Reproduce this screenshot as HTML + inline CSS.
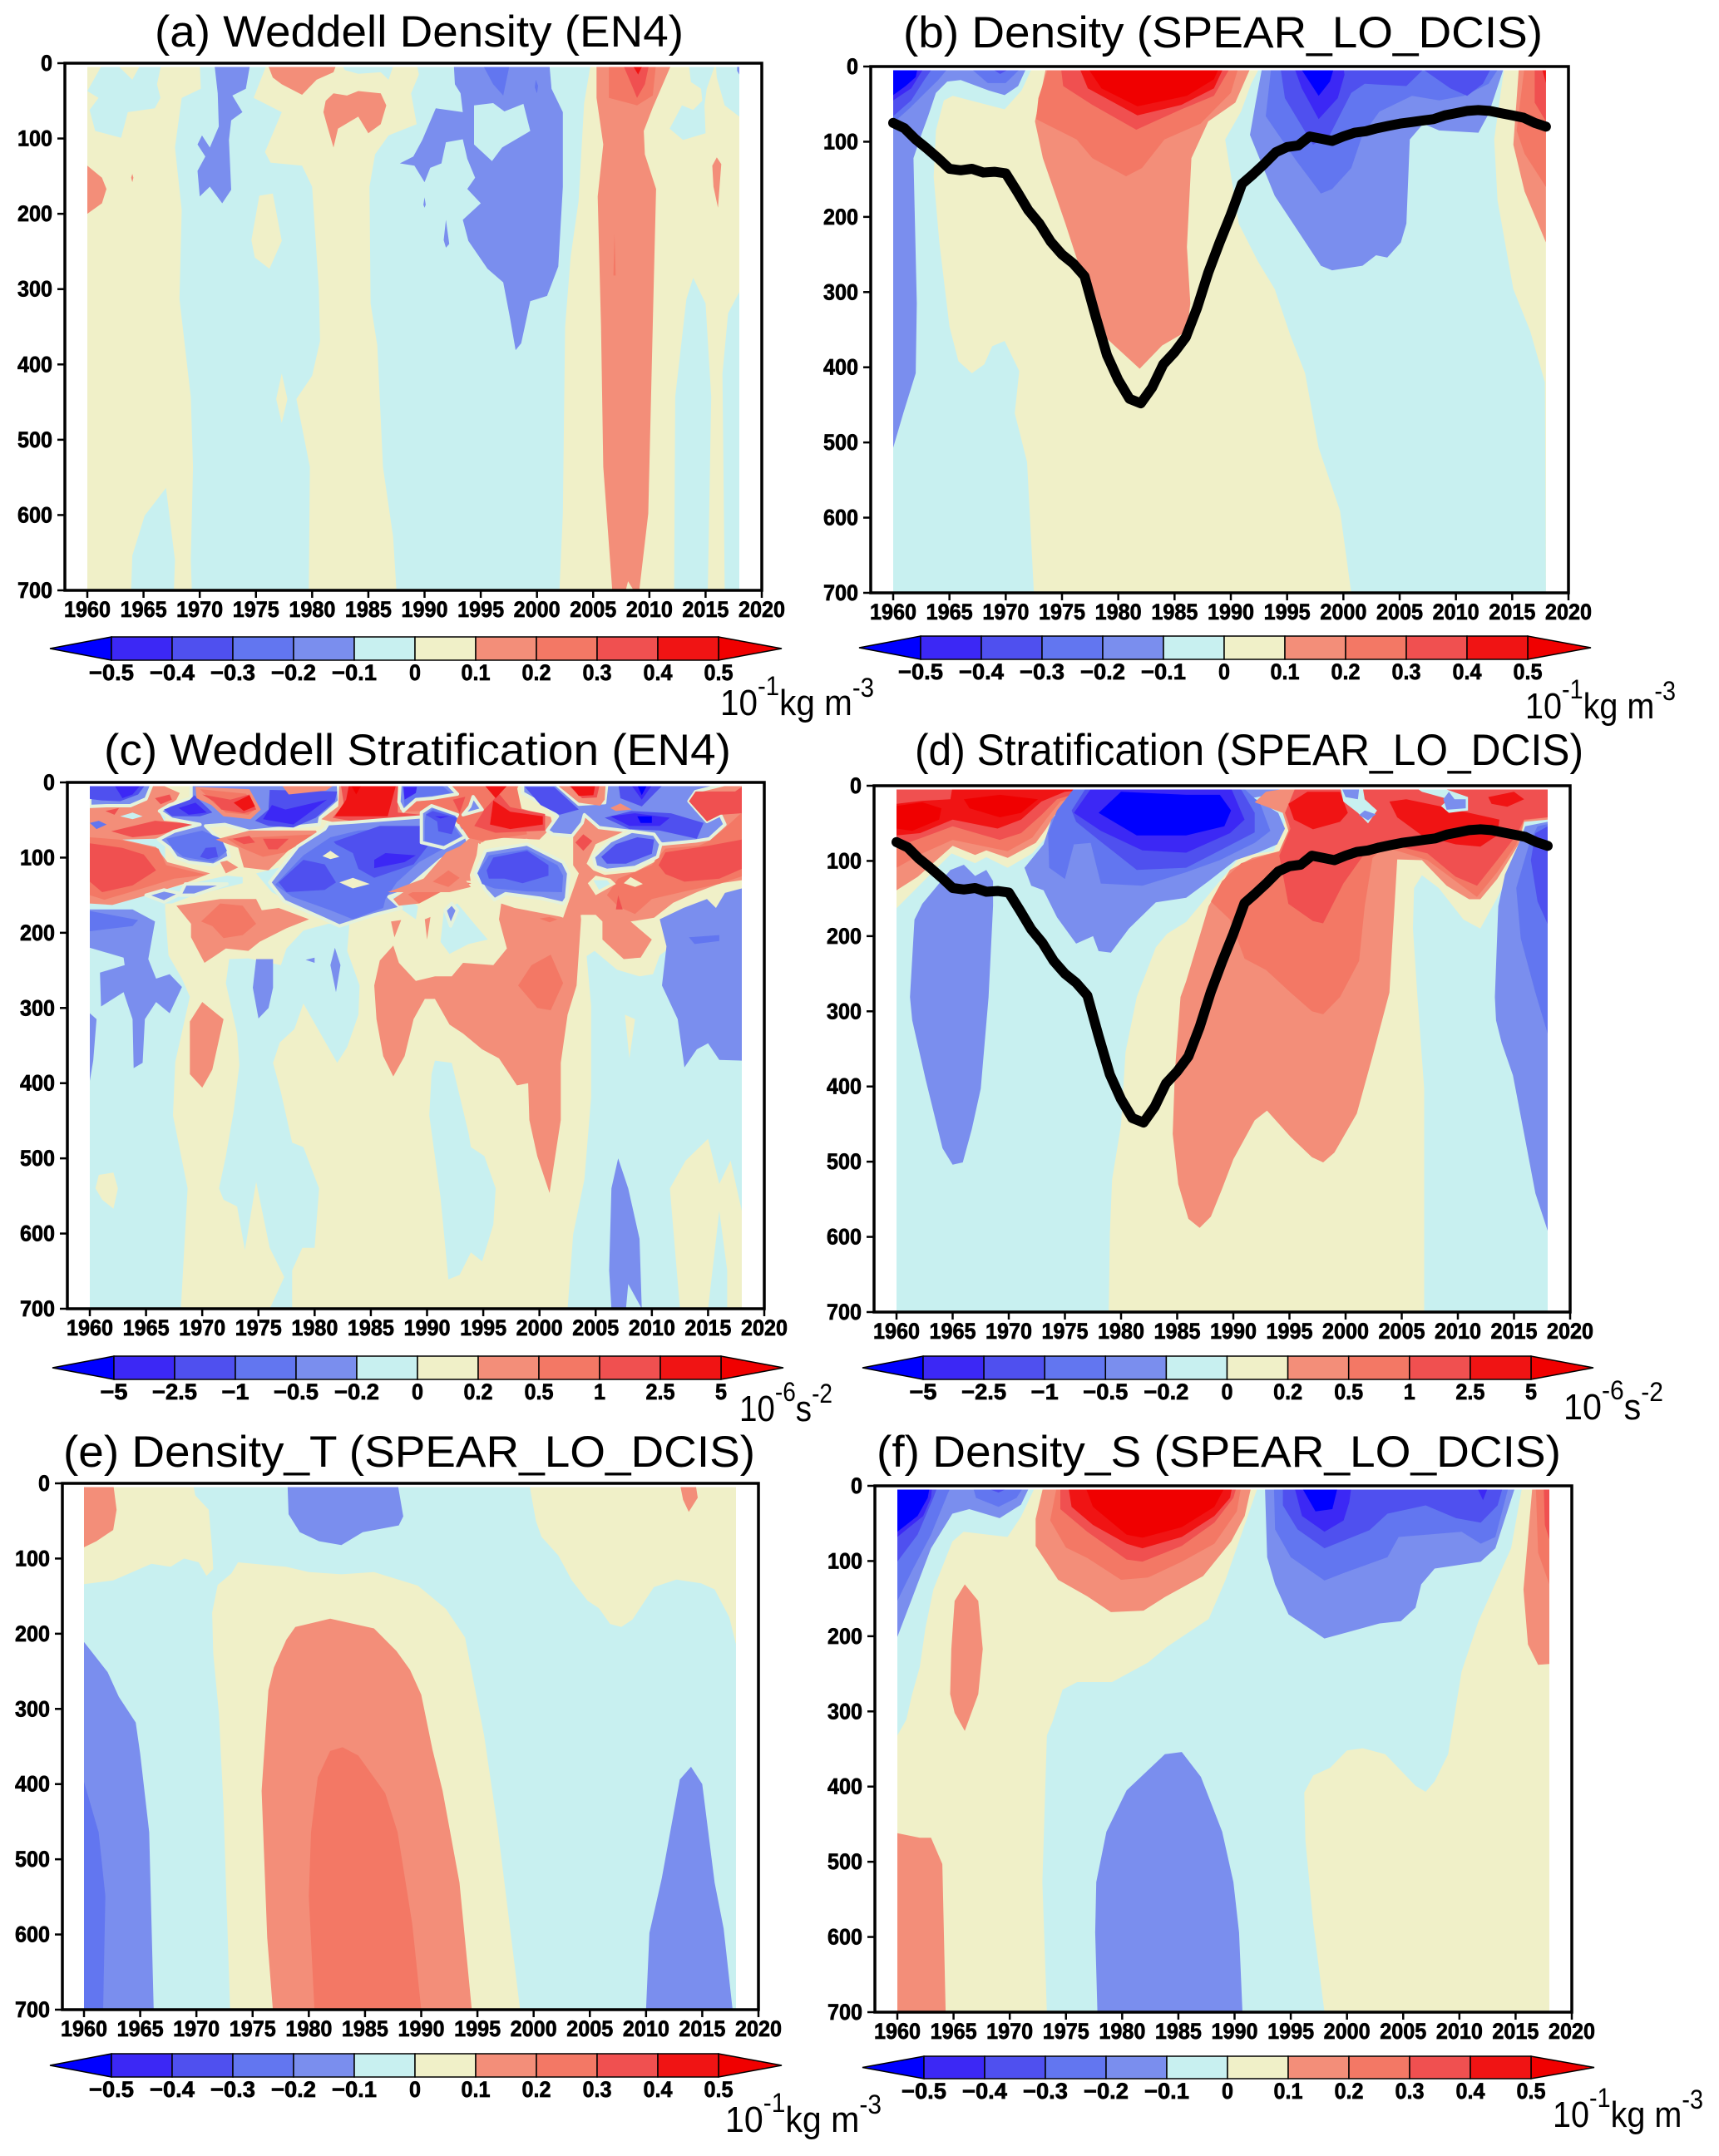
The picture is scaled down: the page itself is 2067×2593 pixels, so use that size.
<!DOCTYPE html>
<html lang="en">
<head>
<meta charset="utf-8">
<title>Weddell density and stratification panels</title>
<style>
html,body{margin:0;padding:0;background:#fff;}
svg{display:block;}
text{font-family:"Liberation Sans",sans-serif;fill:#000;}
</style>
</head>
<body>
<svg id="figure" xmlns="http://www.w3.org/2000/svg" width="2067" height="2593" viewBox="0 0 2067 2593"></svg>
<script>
// Axis tick labels and colour-bar labels
const yearTicks = [1960,1965,1970,1975,1980,1985,1990,1995,2000,2005,2010,2015,2020];
const depthTicks = [0,100,200,300,400,500,600,700];
const densityLevels = ['\u22120.5','\u22120.4','\u22120.3','\u22120.2','\u22120.1','0','0.1','0.2','0.3','0.4','0.5'];
const stratLevels = ['\u22125','\u22122.5','\u22121','\u22120.5','\u22120.2','0','0.2','0.5','1','2.5','5'];
const levelColors = ['#0000ff','#3c28f5','#4f50ef','#6276f0','#7a8eee','#c8f0f0','#f0f0c8','#f38e79','#f37865','#f05050','#f01414','#f00000'];

// Mixed-layer depth (m) per year, panels b and d
const mldYears = [1960,1961,1962,1963,1964,1965,1966,1967,1968,1969,1970,1971,1972,1973,1974,1975,1976,1977,1978,1979,1980,1981,1982,1983,1984,1985,1986,1987,1988,1989,1990,1991,1992,1993,1994,1995,1996,1997,1998,1999,2000,2001,2002,2003,2004,2005,2006,2007,2008,2009,2010,2011,2012,2013,2014,2015,2016,2017,2018];
const mldDepth = [75,82,97,109,122,136,138,136,141,140,142,166,191,209,233,250,262,279,333,384,417,442,448,427,396,380,360,321,274,234,197,156,143,129,114,107,105,93,96,99,93,88,86,82,79,76,74,72,70,65,62,59,58,59,62,65,68,75,80];

// Contour regions: [colour level, [year, depth, year, depth, ...]], painted in order
const regionsA = [
[5,[1960,37,1961,46,1960.2,62,1960.7,90,1963,99,1963.6,65,1966,60,1966.5,46,1966.2,28,1966.6,0,1964.8,0,1964,22,1962.5,0,1961.4,0]],
[5,[1970,0,1970.1,34,1968.4,46,1967.8,112,1968.4,195,1968.2,313,1969.2,443,1969.4,536,1969.2,660,1969.3,700,1979.7,700,1979.8,536,1978.6,446,1980,415,1980.7,369,1980.6,300,1980,164,1979.1,136,1976.3,132,1975.8,118,1977.3,65,1974.8,46,1976,0]],
[6,[1974.6,235,1975.3,176,1976.5,173,1977.3,236,1976.2,273,1974.9,258]],
[6,[1977.3,412,1977.8,446,1977.3,478,1976.8,446]],
[5,[1963.9,700,1964,654,1965.1,601,1967,564,1967.8,660,1967.7,700]],
[5,[1982.6,0,1987.3,0,1986.8,22,1986.1,12,1984.1,14,1982.9,9]],
[5,[1987.5,700,1987.2,629,1986.3,536,1985.8,375,1985.2,319,1985.1,164,1985.6,121,1986.8,96,1989.3,81,1988.8,40,1989.5,15,1989.3,0,2004.8,0,2004.2,53,2003.7,183,2003,257,2002.5,350,2002.3,598,2002,700]],
[5,[2013.5,0,2015.9,0,2015.1,34,2014.9,56,2015,93,2013,102,2011.8,87,2012.9,56,2013.9,62,2014.7,50,2014.6,34,2013.7,25]],
[5,[2015.9,0,2018,0,2018,71,2016.7,56,2016,19]],
[5,[2015.2,700,2015.5,443,2015,319,2013.9,285,2013.3,313,2012.3,443,2012.2,700]],
[5,[2016.7,700,2016.5,412,2017,332,2018,304,2018,700]],
[4,[2017.8,0,2018,0,2018,15,2017.8,10]],
[4,[1971.3,0,1971.6,40,1971.7,84,1970.9,112,1970.2,96,1969.8,108,1970.5,124,1969.8,143,1970,177,1970.9,164,1972,186,1972.8,168,1972.6,102,1972.8,76,1973.8,65,1972.9,43,1974.1,34,1974.5,0]],
[4,[1992.6,0,1992.7,28,1993.2,40,1993.4,65,1991,60,1989.8,102,1989,124,1987.8,133,1989.1,136,1990,158,1990.5,139,1991.5,133,1991.9,105,1993.4,101,1993.8,127,1994.5,152,1993.8,167,1995,186,1993.4,208,1993.9,236,1995.6,273,1997,291,1997.6,338,1998.1,381,1998.6,372,1999.4,316,2000.9,309,2001.9,270,2002.3,164,2002.3,65,2001.3,34,2001.1,0]],
[5,[1994.4,56,1996.1,53,1997.1,64,1998.8,54,1999.4,90,1996.9,112,1996,130,1994.4,108]],
[3,[1995.1,0,1997.6,0,1997,43,1996.1,28]],
[3,[1999.9,22,2000.1,30,2000,40,1999.8,32]],
[4,[1991.9,208,1992.2,240,1991.9,245,1991.7,235]],
[4,[1990,178,1990.1,188,1990,192,1989.9,188]],
[7,[1976,0,1982.2,0,1981.9,12,1980.4,22,1979.1,42,1977.3,28,1976.5,19]],
[7,[1981.2,50,1981.9,40,1983.1,43,1984.1,37,1986.1,40,1986.6,56,1986.1,81,1985,93,1984.1,71,1982.3,87,1981.9,112,1981.3,81,1981,65]],
[7,[2005.3,0,2005.3,46,2005.9,108,2005.4,177,2005.7,350,2005.9,536,2006.7,700,2007.9,700,2008.1,688,2008.6,700,2009.1,700,2009.9,598,2010.4,288,2010.6,167,2009.6,121,2009.5,90,2010.3,59,2012,0]],
[8,[2006.4,0,2006.4,46,2008.9,56,2010.3,43,2010.6,0]],
[9,[2007.6,0,2008.4,28,2008.9,46,2009.6,28,2010,0]],
[10,[2008.4,0,2009,15,2009.5,0]],
[8,[2006.9,226,2007,282,2006.8,282]],
[7,[2015.6,136,2016,125,2016.4,134,2016.1,192,2015.7,164]],
[7,[1960,136,1961.3,152,1961.7,167,1961.3,186,1960,200]],
[7,[1964,147,1964.1,152,1964,158,1963.9,152]]
];

const regionsB = [
[5,[1960,0,1960,700,1972.5,700,1971.9,526,1970.8,461,1971.2,405,1969.9,365,1968.8,372,1968.1,396,1967,408,1965.8,392,1965,346,1964.1,234,1963.6,147,1963.8,85,1964.5,45,1965.3,39,1969.9,57,1971.4,32,1972.4,0]],
[4,[1960,507,1960.9,461,1962,408,1962.1,315,1961.8,122,1962.5,91,1963.1,66,1963.8,35,1964.8,20,1966,18,1968.5,32,1969.9,38,1971.1,26,1971.9,0,1960,0]],
[3,[1960,75,1961.5,55,1962.5,40,1964,18,1965,0,1960,0]],
[3,[1966.7,0,1968.4,22,1970,22,1971.5,0]],
[2,[1960,66,1961.6,45,1962.8,17,1963.6,0,1960,0]],
[2,[1968.5,0,1969.5,10,1970.7,0]],
[1,[1960,45,1961.6,29,1962.8,0,1960,0]],
[0,[1960,38,1961.1,26,1962,14,1962.2,0,1960,0]],
[5,[2000.7,700,1999.7,591,1997.8,507,1996.6,408,1995.3,358,1993.9,296,1992.4,259,1990.7,209,1989.5,97,1990.9,60,1991.8,23,1992.6,0,2014.3,0,2013.4,97,2013.7,178,2015.1,296,2016.6,352,2017.9,420,2018,700]],
[4,[1992.8,0,1992.2,48,1991.7,91,1993.9,172,1995.8,215,1998,265,1999,271,2001.7,265,2002.9,251,2003.9,254,2005.1,234,2005.6,209,2005.9,97,2007.1,76,2008.5,85,2012,88,2012.9,63,2014.3,0]],
[3,[1993.6,0,1993.1,66,1995.8,125,1998,169,1999,163,2000.7,135,2001.7,91,2003.2,60,2006.1,39,2008.5,45,2010.7,39,2012.9,23,2013.9,0]],
[2,[1994.4,0,1994.8,42,1997.3,104,1998.8,91,2000.7,35,2001.9,23,2005.6,26,2007.1,4,2009.5,29,2011,39,2012.4,23,2013.2,0]],
[1,[1995.6,0,1996.3,29,1997.8,70,1999.5,42,2000.1,11,2000,0]],
[0,[1996.1,0,1997.8,39,1998.8,20,1999.2,0]],
[7,[1973.6,0,1972.6,73,1973.3,122,1975.3,209,1976.8,278,1978.7,358,1981.9,402,1983.9,371,1986.1,352,1986.4,315,1986.1,240,1986.5,122,1988,73,1990.4,48,1991.8,0]],
[8,[1973.8,0,1972.9,42,1972.7,70,1976.3,97,1977.7,122,1980.7,146,1982.1,135,1984.1,97,1987.3,76,1990,35,1990.7,0]],
[9,[1974.9,0,1975.1,26,1977.7,51,1981.6,84,1985.6,57,1988.5,39,1990,0]],
[10,[1976.5,0,1977.3,29,1981.7,65,1985.6,51,1988.5,29,1989.4,0]],
[11,[1977.2,0,1978.5,29,1981.7,53,1986.1,39,1988.5,17,1989,0]],
[7,[2015.6,0,2015.1,104,2016.1,166,2018,234,2018,0]],
[8,[2016.1,0,2015.4,85,2016.1,116,2018,160,2018,0]],
[9,[2017,0,2017,48,2018,73,2018,0]],
[10,[2017.6,0,2018,22,2018,0]]
];

const regionsC = [
[5,[1960,0,1960,700,1968.1,700,1968.7,540,1967.4,443,1967.6,372,1968.9,285,1968.2,261,1967,230,1966.7,170,1966.7,0]],
[5,[1964.8,148,1972.2,124,1973.6,126,1973.6,134,1969.3,150,1967.3,161,1964.8,161,1962.6,163]],
[6,[1960.5,540,1960.8,522,1962.1,519,1962.5,540,1962.1,567,1961.1,555]],
[5,[1972.4,235,1974.1,234,1977,243,1977.5,221,1979,197,1981.2,188,1983.1,188,1982.9,224,1984,270,1983.9,309,1982.9,352,1982,373,1981.2,352,1979,294,1978.2,328,1976.9,346,1976.3,373,1977,412,1978,479,1979,485,1980.4,540,1980,619,1978.9,619,1978,649,1978,700,1976,700,1977.3,658,1976,619,1974.8,531,1973.8,622,1973.1,564,1971.9,555,1971.5,540,1972.1,497,1972.8,437,1973.3,376,1973.1,334,1972.1,267]],
[5,[1990.7,370,1992.2,373,1993.7,467,1993.9,485,1995.1,497,1996.1,540,1995.9,588,1994.9,637,1993.9,625,1992.9,655,1991.9,661,1991.2,552,1990.2,443,1990.4,388]],
[5,[1991.5,170,1992.7,161,1994.2,188,1995.4,209,1993.7,215,1992,228,1991.2,212]],
[5,[2002.5,700,2003,601,2004,528,2004.6,419,2004.6,297,2004.2,231,2004.9,224,2006.9,249,2008.9,258,2010.1,255,2010.7,230,2018,146,2018,570,2017,503,2016,534,2015,474,2013,503,2011.6,540,2012.5,700]],
[5,[2015,700,2016,570,2016.7,649,2016.7,700]],
[6,[2007.6,309,2008.5,315,2008,367]],
[4,[1960,169,1963.8,169,1965.8,185,1965.2,235,1965.9,261,1967.1,255,1968.2,272,1967.1,307,1965.9,292,1964.9,315,1964.7,373,1963.9,380,1963.8,315,1963,279,1961,298,1960.9,253,1963.1,243,1963,233,1960,220]],
[3,[1960,171,1964.3,183,1963.8,191,1960,198]],
[4,[1960,307,1960.6,315,1960.3,370,1960,397]],
[4,[1974.8,235,1976.3,235,1976.3,273,1975.9,300,1975,314,1974.5,273]],
[4,[1981.8,220,1982.3,243,1981.9,279,1981.4,243]],
[4,[1979.2,236,1980,233,1980,240]],
[4,[1992.2,161,1992.7,170,1992.1,191,1991.6,170]],
[4,[2007,500,2007.9,540,2008.9,607,2009.1,700,2007.9,667,2007.7,700,2006.4,700,2006.2,649,2006.4,540]],
[7,[1967.7,164,1971.6,155,1974.8,155,1975.3,170,1976.8,167,1979.5,182,1977.5,194,1975.1,212,1974.1,224,1972.1,221,1970.2,240,1969,206,1969,188]],
[8,[1969.9,185,1971.6,161,1973.6,164,1974.8,188,1973.6,203,1971.9,207,1970.9,191]],
[7,[1968.9,318,1970,292,1971.9,315,1970.9,382,1970,406,1968.9,388]],
[7,[1985.3,270,1985.8,237,1987,217,1987.5,240,1989,264,1990.7,258,1992.2,258,1993.2,240,1995.9,243,1997.1,221,1996.4,182,1996.6,161,1997.8,167,2002,179,2003.5,155,2003.7,182,2003.3,270,2002.5,309,2001.9,373,2001.9,449,2000.9,546,1999.8,497,1999.1,449,1999,400,1998,403,1996.4,367,1994.9,355,1993.2,334,1992,322,1990.7,288,1989.8,288,1988.8,315,1988,364,1987,391,1986.1,364,1985.5,315]],
[8,[1998.1,270,1999.3,243,2001,229,2002.1,267,2001,303,1999.8,300]],
[8,[2000,181,2000.9,179,2001.6,182,2000.9,186]],
[7,[1986.8,185,1987.7,183,1987.1,206]],
[7,[1989.8,182,1990.3,179,1990,209]],
[4,[2010.7,182,2012.8,167,2014.9,155,2015.7,167,2016.5,147,2018,141,2018,370,2016,369,2015,347,2014,355,2012.9,379,2012.3,315,2010.9,270,2011.3,218]],
[3,[2013.3,206,2016,203,2016,211,2013.8,215]],
[7,[2002.1,180,2003.8,176,2005,176,2005.6,185,2005.6,209,2007.5,235,2009,233,2010,209,2008.1,185,2010.2,180,2011.9,160,2014,146,2016.1,134,2018,130,2018,0,2003,0,2003,124]],
[8,[2006,150,2007,128,2010,110,2011.2,88,2014.2,84,2015.1,78,2016.4,62,2018,40,2018,125,2016,135,2012.9,145,2010,155,2008.5,175,2007,165]],
[9,[2010.6,110,2011.2,93,2015.1,84,2018,76,2018,115,2016,128,2012.9,132,2011.2,122]],
[9,[2006.8,169,2007,150,2007.4,169]],
[9,[2003.2,80,2003.9,69,2004.7,78,2003.9,91]],
[6,[2004.3,134,2005,124,2006.3,128,2006.8,135,2005,150]],
[5,[2004.8,130,2006,130,2006.3,135,2005.3,143]],
[6,[2007.5,134,2008.1,126,2009.2,135,2008.5,139]],
[7,[1960,161,1962,163,1965.1,150,1968.3,135,1970.7,121,1966.9,106,1965.9,86,1962.9,76,1965.8,75,1967.1,71,1969.5,55,1966.6,51,1966.2,40,1967.7,23,1968,14,1965.9,0,1960,0]],
[8,[1960,73,1962.6,76,1966.1,88,1966.8,110,1970.4,123,1967.5,128,1963.8,145,1961.3,156,1960,150]],
[9,[1960,81,1962.9,87,1964.8,96,1965.9,117,1963.8,137,1961.1,146,1960,132]],
[9,[1961.9,65,1965.8,51,1969.5,56,1966.3,69,1963.8,73]],
[9,[1961.4,38,1962.6,34,1962.2,43]],
[9,[1965.8,21,1967.1,16,1967.3,23,1966.3,29]],
[5,[1962.7,45,1963.8,40,1964.7,45,1963.8,49]],
[3,[1960,54,1960.8,51,1961.5,56,1960.6,62]],
[4,[1960,0,1965.6,0,1965,22,1963.6,31,1961.5,31,1960,32]],
[2,[1960,0,1965.1,0,1964.3,16,1962.7,25,1961.1,24,1960,22]],
[1,[1962.2,4,1964.5,4,1963.8,16,1962.9,21]],
[4,[1965,150,1966.6,143,1968.1,148,1966.6,159]],
[4,[1968,150,1968.5,135,1972.2,135,1969.3,150]],
[4,[1966.2,38,1967.1,30,1969,21,1969,0,1982.1,0,1982.2,25,1980.5,47,1980.4,56,1974.2,65,1972,56,1970.3,58,1972.2,86,1972.4,99,1971,110,1968.8,106,1967.7,100,1967.1,87,1966.1,76,1967.5,65,1969.8,56,1967.3,49]],
[3,[1966.8,75,1970,64,1971.7,75,1972.2,91,1971,106,1968.3,99,1967.3,87]],
[2,[1969.8,99,1970.3,87,1971.2,86,1971.4,99,1970.5,102]],
[2,[1966.6,36,1968.9,23,1969.3,17,1970.9,40,1969.8,45,1967.3,45]],
[1,[1967.9,34,1969.4,27,1970.4,40,1968.8,43]],
[7,[1969.4,6,1974.2,9,1975.2,36,1974.3,49,1971.9,45,1970.8,30,1969.5,21]],
[8,[1969.8,9,1973.9,15,1974.8,35,1974.1,43,1972.1,40,1971,27]],
[9,[1970,16,1972.5,23,1974.2,16,1974.8,36,1973.7,41,1971.7,36,1971,25]],
[10,[1972.8,27,1974.2,17,1974.7,32,1973.7,38]],
[2,[1974.7,51,1975.9,36,1976,10,1982,12,1981.8,25,1980.1,47,1978.1,60,1975.9,58]],
[1,[1975.4,49,1976.2,30,1977.4,36,1981.1,23,1978.1,56]],
[7,[1976.9,0,1982.1,0,1981,11,1977.7,16]],
[7,[1982.2,0,1987.5,0,1987.6,36,1989.4,34,1990,56,1986.8,58,1983.6,60,1980.6,49,1982.1,32]],
[9,[1982.3,0,1987.4,0,1987.4,40,1989.5,43,1989.7,56,1985,56,1981.6,47,1982.6,29]],
[10,[1983.1,0,1987.3,0,1986.5,45,1981.8,45,1982.8,23]],
[11,[1983.1,0,1984.3,0,1983.7,16]],
[7,[1971.6,106,1972.2,104,1973.2,113,1972.1,121]],
[7,[1971.2,76,1974.2,64,1980.1,64,1980.7,78,1978.1,84,1975.9,117,1973.7,113,1973.2,87]],
[8,[1972.2,75,1980.1,69,1977.4,93,1975.4,99,1973.5,87]],
[9,[1972.7,75,1974.2,71,1974.7,80,1973.7,82]],
[9,[1975.4,75,1977.7,75,1976.7,89,1975.9,89]],
[5,[1974.8,121,1977.7,110,1986.8,132,1989.2,165,1989,182,1987,161,1982.6,191,1981.1,185,1976.2,146]],
[4,[1976,133,1978.5,85,1980.9,62,1981.2,55,1983.4,53,1990.2,45,1993.2,58,1993.7,82,1991.2,103,1989.8,121,1987.8,146,1986.6,152,1987.7,167,1985.3,176,1982.2,191,1980.9,182,1977.3,158]],
[3,[1976.5,136,1979,97,1981.4,73,1983.9,64,1989.8,58,1991.8,73,1992.2,82,1989.3,106,1987.3,133,1986.3,155,1986.1,167,1983.4,182,1981.4,170,1978,152]],
[2,[1976.8,133,1979,103,1980.9,109,1981.9,133,1980.9,143,1977.5,146]],
[2,[1981.7,79,1985.8,58,1989.8,58,1990.2,82,1988.8,109,1985.3,127,1983.9,115,1983.4,94,1981.9,82]],
[1,[1985.3,103,1986.3,94,1989,97,1988,106,1985.3,114]],
[6,[1980.7,98,1981.4,91,1982.2,99,1981.4,102]],
[6,[1982.2,133,1983.4,127,1984.9,135,1983.4,141]],
[7,[1987,155,1989.8,127,1991.2,106,1993.9,73,1994.6,76,1994.3,109,1994,131,1991.2,131,1989.3,161,1987.5,164]],
[8,[1988.3,149,1991.2,128,1994,134,1991.2,146,1989.3,161]],
[7,[1992.9,58,1992.7,33,1993.9,18,1994.7,33,1995.2,18,1993.2,0,1998.3,0,1997.3,30,2001,46,2001.2,58,2000,76,1995.6,73,1994.7,82,1993.7,70]],
[8,[1987.9,39,1989,25,1990.5,23,1992.7,17,1991.7,0,1997.9,0,1998.9,69,1994.9,78,1993.7,74,1992.9,56,1989.5,38]],
[9,[1995.1,36,1996.4,15,1997.4,33,2000.5,42,2000.5,64,1996.1,67,1994.2,58]],
[10,[1995.9,24,1997.4,39,2000.3,45,2000.3,56,1997.4,62,1995.6,56]],
[10,[1994.9,0,1997.4,0,1996.1,21]],
[4,[1987.6,0,1991.7,0,1992.7,15.5,1990.5,21,1989,23,1987.9,38,1987.5,26]],
[3,[1987.8,0,1991,0,1992.1,14,1990.4,18,1989,20,1988,32]],
[1,[1987.9,6,1989.1,6,1989,14,1988,23]],
[9,[1992.3,23,1993.4,19,1992.9,41]],
[4,[1993.8,32,1994.1,19,1994.9,36,1993.2,43]],
[4,[1989.5,52,1989.5,40,1990.4,31,1992.7,43,1992.4,52,1993.4,72,1991.5,87,1989.5,80]],
[3,[1989.8,52,1989.9,42,1990.5,35,1992.6,45,1992.2,54,1993,72,1991.5,84,1989.8,78]],
[2,[1989.9,43,1990.5,38,1992.7,47,1992.2,69,1991,65,1990.9,52]],
[1,[1990.7,45,1991.96,45,1991.2,48]],
[7,[1986.5,146,1989.7,128,1991.7,93,1993.7,80,1993.9,108,1993.2,126,1993.9,139,1992,146]],
[8,[1990.5,132,1991.9,117,1992.9,127,1991.9,139]],
[6,[1993.8,123,1994.8,80,1998.9,75,2002.8,106,2003.5,121,2002.1,180,2000.1,169,1996.9,161,1996,161,1994,145]],
[4,[1994.3,121,1995.2,91,1998.9,82,2002.1,106,2002.6,121,2002.4,154,2002.1,161,2000.1,154,1997,148,1996,156,1995.2,143]],
[3,[1994.5,121,1995.5,97,1998.9,89,2001.6,110,2002.1,124,2002,146,1998.9,145,1996,141,1994.9,135]],
[2,[1995.3,117,1995.9,100,1998.9,91,2000.8,110,2000.8,124,1998.5,134,1996.9,128,1995.5,128]],
[4,[1998.5,0,2001.3,0,2003.5,29,2005.8,27,2006,0,2017.2,0,2013.9,12,2013.3,25,2014.9,52,2016.1,43,2016.5,56,2015.1,75,2013.9,78,2010.9,82,2010.2,76,2008.1,65,2005.3,60,2004,43,2003.8,54,2002.9,71,2001.2,69,2000.7,64,2001.6,45,2000.6,32,1998.5,14]],
[2,[1998.7,6,2001.3,6,2003.5,36,2001.8,43,2000.1,30]],
[7,[2001.3,0,2005.9,0,2005.8,23,2005.4,31,2003.5,27]],
[9,[2002.3,0,2005.4,0,2005.1,20,2003.8,21]],
[10,[2002.5,0,2005,0,2004.8,17,2003.5,18]],
[2,[2007,0,2011.2,0,2009.1,32,2007.2,21]],
[1,[2008,0,2010.2,0,2009.1,23]],
[0,[2008.6,0,2009.7,0,2009.1,17]],
[2,[2005.8,47,2008.2,38,2011.7,41,2014.6,54,2014,75,2010.7,64,2008,62]],
[1,[2006.3,45,2008.5,41,2011.6,47,2010.7,58,2008,58]],
[0,[2008.7,45,2010,45,2010,54,2009,54]],
[7,[2006.3,34,2007.2,28,2008.2,36,2006.8,38]],
[6,[2004.2,108,2005,82,2007.7,64,2010.9,80,2010.2,106,2008.5,119,2005.8,123,2004.8,117]],
[4,[2004.8,99,2006.3,78,2008.2,65,2010.2,69,2010.8,82,2010.5,99,2008.5,113,2006,117,2005,112]],
[2,[2005.5,99,2006.8,82,2008.7,73,2010.2,76,2010,95,2007.7,108,2006,108]],
[9,[2013.3,25,2013.9,12,2017.4,12,2018,6,2018,41,2016.1,43,2014.9,52]]
];

const regionsD = [
[6,[1978.9,700,1979,597,1979.2,524,1980,451,1980.4,354,1981.4,281,1983.1,215,1984.1,197,1985.8,181,1988.3,136,1990.7,93,1993.6,87,1994.4,57,1995.6,0,2015.9,0,2015.9,51,2015.6,81,2014.2,130,2012,190,2010.5,178,2008.3,136,2006.8,119,2006.1,136,2006,190,2006.4,281,2007,403,2007,700]],
[6,[1960,163,1962.6,124,1964.9,90,1967,103,1968,95,1969.9,109,1972.1,90,1973.3,69,1974.3,42,1978,5,1978,0,1960,0]],
[7,[1960,139,1961.9,121,1965,80,1967,92,1968,86,1969.9,96,1972.4,76,1973.3,58,1974.1,39,1978,5,1978,0,1960,0]],
[8,[1960,109,1962.3,90,1965,72,1969.9,87,1972.1,69,1973.3,45,1974.6,21,1977.3,6,1977.3,0,1960,0]],
[9,[1960,81,1962.3,69,1965,54,1969.2,72,1971.1,63,1972.9,39,1974.3,18,1976.5,8,1977,0,1960,0]],
[10,[1960,66,1962.1,63,1965,45,1969,57,1971.1,45,1972.9,21,1975,8,1976.5,6,1976.5,0,1960,0]],
[9,[1960,0,1965,0,1964.8,18,1962.3,20,1960,24]],
[11,[1960,27,1962.3,22,1964,30,1963.8,45,1961.4,60,1960,57]],
[11,[1966,18,1969.2,12,1972.6,18,1971.1,36,1969.2,42,1966.5,30]],
[4,[1978,0,1975.3,18,1973.8,45,1973.1,78,1971.4,109,1972,133,1973.1,139,1974.3,175,1976,210,1977.5,200,1978,220,1979.1,222,1980.7,190,1983.1,155,1985.8,149,1987.8,127,1990.2,99,1992.2,89,1993.9,78,1994.6,57,1994,36,1991.8,16,1994.6,8,1994.6,0]],
[3,[1976,0,1974.3,33,1973.5,63,1973.6,109,1975,124,1975.8,78,1977.3,76,1978.2,130,1981.9,133,1985.8,115,1988.8,99,1991.9,76,1993.3,60,1992.4,24,1990.7,0]],
[2,[1977,0,1975.6,33,1976,48,1978,72,1981.4,112,1985.8,109,1988.3,90,1991.9,62,1991.9,36,1990.5,0]],
[1,[1977.5,0,1975.8,36,1978.2,60,1981.9,86,1985.8,89,1989.7,63,1991,45,1989.7,0]],
[0,[1980,8,1978,36,1981.4,66,1985.8,66,1989.2,54,1989.8,33,1988.8,12,1985.8,12]],
[7,[1987,588,1986,576,1985.1,530,1984.6,463,1984.8,379,1985.3,281,1985.8,260,1987.8,160,1989.7,112,1991.7,96,1994.1,87,1994.9,60,1994.4,36,1991.9,22,1992.9,8,1994.6,4,1994.6,0,2018,0,2018,45,2015.9,48,2015.4,78,2013.5,124,2012,151,2011,151,2009,133,2006.8,99,2004.6,98,2003.9,275,2002.4,360,2001,436,1999,488,1998,501,1997,494,1995.1,467,1993,432,1991.9,445,1990,497,1989,536,1988,573]],
[8,[1988,154,1989,127,1990.7,103,1994.1,87,1994.9,60,1995.6,0,2018,0,2018,42,2015.9,46,2015.2,78,2013.5,115,2011.7,148,2009.8,127,2007.3,99,2003.4,81,2002.4,96,2001.7,160,2001.2,233,1999.5,281,1998,304,1997,300,1995.1,275,1992.9,245,1991,230,1989.7,178]],
[9,[1995.1,57,1994.1,93,1994.9,157,1997.1,180,1998,183,1999.8,130,2001.7,90,2003.4,76,2007.3,90,2009.8,121,2011.7,133,2013.5,99,2015.2,66,2015.9,45,2018,42,2018,0,1995.6,0,1994.6,36]],
[10,[1994.9,24,1995.4,45,1997.1,58,1999.5,48,2000.2,36,1999.5,8,1996.6,8]],
[10,[2003.9,21,2004.6,42,2006.8,66,2009.8,78,2012,81,2013.5,66,2013.7,45,2008.3,27,2005.4,18]],
[10,[2012.7,15,2015,8,2015.9,18,2014.4,28,2013,24]],
[5,[1999.5,0,2001.5,0,2001.7,18,2002.8,33,2002,50,2001.1,36,1999.8,21]],
[4,[1999.7,5,2001.2,5,2001.1,18,2000,15]],
[4,[2001.7,33,2002.7,38,2002,46,2001.2,39]],
[5,[2006.4,4,2009,5,2010.9,15,2010.9,33,2009.2,36,2008.5,27,2009.2,18,2006.8,8]],
[4,[2008.7,18,2009.2,8,2009.7,18,2010.7,18,2010.7,30,2009,32]],
[4,[2018,592,2016.9,542,2015.9,463,2014.9,385,2013.9,342,2013.4,312,2013.3,281,2013.6,160,2014.2,118,2015.4,78,2016,54,2018,48]],
[3,[2018,330,2016.9,275,2015.6,203,2015.2,136,2016.4,75,2017.1,54,2018,51]],
[2,[2018,184,2017.1,154,2016.5,99,2016.9,63,2018,54]],
[4,[1965,504,1965.9,501,1966.7,457,1967.5,403,1968.2,281,1968.6,160,1968.6,127,1968,112,1967,120,1966,105,1964.8,112,1962.3,157,1961.6,178,1961.2,281,1961.4,312,1962.6,391,1964.1,482]]
];

const regionsE = [
[6,[1960,0,1969.7,0,1969.9,16,1971.1,35,1971.4,87,1971.5,114,1970.9,123,1970.2,105,1968.9,100,1967.7,111,1966,107,1964,120,1962.6,129,1960,134]],
[7,[1960,0,1962.6,0,1962.9,35,1962.6,62,1961.1,77,1960,85]],
[6,[1971.4,172,1971.9,135,1973.1,120,1973.7,105,1978,111,1980,118,1982.9,121,1985.8,118,1989.7,136,1992.2,167,1993.9,205,1995.6,336,1996.8,458,1998.8,700,1973,700,1972.4,427,1972,306,1971.5,226]],
[7,[1976.8,700,1976.3,604,1975.8,409,1976.4,275,1976.9,245,1978,208,1978.8,191,1981.9,180,1985.8,193,1987.8,223,1989,248,1990,281,1991,354,1991.9,409,1993.4,531,1994.5,700]],
[8,[1980.5,700,1980,549,1980.2,464,1980.8,391,1981.9,356,1983,351,1984.4,362,1986.8,412,1987.9,464,1989.2,586,1990,700]],
[6,[1999.6,0,2000.2,50,2000.7,71,2002.2,96,2003.4,129,2004.8,156,2005.8,166,2006.8,187,2007.8,191,2008.8,181,2010.7,138,2012.7,128,2014.9,133,2016.1,141,2017.4,178,2018,214,2018,0]],
[7,[2013,0,2014.4,0,2014.6,19,2013.8,38,2013.3,22]],
[4,[1978.1,0,1987.9,0,1988.4,44,1988,56,1984.8,65,1982.9,82,1980.9,77,1979.2,65,1978.2,41]],
[4,[1960,211,1962.1,251,1963.1,284,1964.6,318,1965,360,1965.8,464,1966.2,700,1960,700]],
[3,[1960,397,1961.3,464,1961.9,549,1961.7,700,1960,700]],
[4,[2010,700,2010.3,598,2011.4,525,2013,394,2014,377,2015,400,2016.1,531,2016.9,592,2017.7,700]]
];

const regionsF = [
[5,[1960,332,1960.8,311,1961.3,278,1962,241,1962.5,189,1963.2,138,1964.9,74,1965.9,61,1969.8,68,1971,41,1972.3,0,1960,0]],
[5,[1973.3,700,1972.9,527,1973.3,332,1973.8,314,1974.7,271,1976,261,1979.1,261,1982.3,235,1984,214,1987.7,177,1989.2,125,1990.6,65,1992.1,0,2015.6,0,2014.6,83,2011.7,180,2010.2,247,2009,357,2007.8,393,2007,407,2006.1,399,2003.4,357,2001.4,349,2000,352,1998.5,375,1997,385,1996.2,408,1996.3,472,1997,582,1998,700]],
[4,[1977.8,700,1977.6,594,1977.7,527,1978.6,460,1980.4,405,1983.8,357,1985.3,354,1987,387,1988.9,460,1989.9,527,1990.4,594,1990.7,700]],
[7,[1960,462,1962,468,1963,468,1964,503,1964.3,700,1960,700]],
[7,[1966,131,1967.2,153,1967.6,217,1967.2,277,1966,326,1965.1,302,1964.7,277,1964.8,217,1965.1,153]],
[4,[1960,201,1961.3,150,1963,83,1964.9,37,1966.4,31,1969.1,43,1971,25,1971.8,0,1960,0]],
[3,[1960,153,1961.3,113,1963,65,1964.5,10,1964.8,0,1960,0]],
[3,[1966.7,0,1967,16,1969,28,1970.6,16,1971.3,0]],
[2,[1960,101,1961.8,65,1963.2,16,1963.6,0,1960,0]],
[2,[1967.4,0,1969,9,1970.3,0]],
[1,[1960,68,1962.3,40,1963,16,1963.1,0,1960,0]],
[0,[1960,61,1961.8,40,1962.7,16,1962.9,0,1960,0]],
[7,[1973,0,1972.3,44,1972.3,80,1974.3,125,1976.9,147,1979,168,1981.9,166,1983.8,148,1987.2,120,1989.7,74,1990.9,40,1991.5,0]],
[8,[1974.2,0,1973.6,46,1975,82,1976.9,96,1979.9,125,1982.3,122,1985.3,101,1988.2,77,1990.2,34,1990.6,0]],
[9,[1974.5,0,1974.5,31,1976.9,61,1980.4,98,1981.8,101,1985.3,80,1988.2,49,1989.9,16,1990.2,0]],
[10,[1975.2,0,1975.5,28,1977.4,52,1980.4,77,1981.8,83,1985.3,68,1988.2,40,1989.6,16,1989.8,0]],
[11,[1976.7,0,1977.4,28,1980.4,65,1981.8,69,1985.3,55,1988.2,28,1989.2,0]],
[4,[1992.7,0,1992.9,95,1993.6,131,1994.8,171,1998,203,2000,195,2002.9,183,2004.8,180,2006.1,162,2006.6,131,2007.8,110,2011.9,101,2013.2,83,2015,0]],
[3,[1993.5,0,1993.6,58,1995,95,1998,126,1999.7,116,2003.6,95,2004.6,68,2010.2,61,2011.9,77,2013.2,68,2014.4,0]],
[2,[1994.3,0,1994.3,26,1995.6,58,1998,83,2002,59,2003.6,37,2007,26,2009.7,43,2011.9,49,2013.4,26,2013.9,0]],
[1,[1995.3,0,1996,40,1998,61,1999.7,46,2000.2,22,2000.4,0]],
[1,[2011.5,0,2012.1,19,2012.6,0]],
[0,[1995.9,0,1997.2,34,1998.7,31,1999.2,0]],
[7,[2016.5,0,2015.7,138,2016.1,211,2017,238,2018,237,2018,0]],
[8,[2016.8,0,2017,89,2018,131,2018,0]],
[9,[2017.5,0,2017.6,52,2018,71,2018,0]]
];

// Panel layout (frame, axes, colour bar, headings)
const panels = [
{id:'a',title:'(a) Weddell Density (EN4)',tx:186,tw:636,tb:56,L:78,R:916,T:76,B:710,x0:105,base:6,regions:regionsA,
 cbT:766,cbB:794,cbL:134,cbR:864,tipL:60,tipR:940,labels:densityLevels,u:['10','-1','kg m','-3'],ux:866,uw:185,ub:860,line:false,ring:false},
{id:'b',title:'(b) Density (SPEAR_LO_DCIS)',tx:1086,tw:769,tb:57,L:1047,R:1886,T:80,B:713,x0:1074,base:6,regions:regionsB,
 cbT:765,cbB:793,cbL:1107,cbR:1837,tipL:1033,tipR:1913,labels:densityLevels,u:['10','-1','kg m','-3'],ux:1834,uw:181,ub:864,line:true,ring:false},
{id:'c',title:'(c) Weddell Stratification (EN4)',tx:125,tw:754,tb:920,L:81,R:919,T:941,B:1574,x0:108,base:6,regions:regionsC,
 cbT:1631,cbB:1659,cbL:137,cbR:867,tipL:63,tipR:942,labels:stratLevels,u:['10','-6','s','-2'],ux:889,uw:112,ub:1709,line:false,ring:true},
{id:'d',title:'(d) Stratification (SPEAR_LO_DCIS)',tx:1100,tw:804,tb:920,L:1051,R:1888,T:945,B:1578,x0:1078,base:5,regions:regionsD,
 cbT:1631,cbB:1659,cbL:1110,cbR:1841,tipL:1037,tipR:1916,labels:stratLevels,u:['10','-6','s','-2'],ux:1880,uw:120,ub:1707,line:true,ring:false},
{id:'e',title:'(e) Density_T (SPEAR_LO_DCIS)',tx:76,tw:832,tb:1764,L:75,R:912,T:1784,B:2417,x0:101,base:5,regions:regionsE,
 cbT:2470,cbB:2498,cbL:134,cbR:864,tipL:60,tipR:940,labels:densityLevels,u:['10','-1','kg m','-3'],ux:872,uw:188,ub:2564,line:false,ring:false},
{id:'f',title:'(f) Density_S (SPEAR_LO_DCIS)',tx:1054,tw:823,tb:1764,L:1052,R:1890,T:1787,B:2420,x0:1079,base:6,regions:regionsF,
 cbT:2473,cbB:2500,cbL:1111,cbR:1841,tipL:1037,tipR:1917,labels:densityLevels,u:['10','-1','kg m','-3'],ux:1867,uw:181,ub:2558,line:false,ring:false}
];

const SVG_NS = 'http://www.w3.org/2000/svg';
const figure = document.getElementById('figure');

function make(tag, attrs, parent) {
  const el = document.createElementNS(SVG_NS, tag);
  for (const k in attrs) el.setAttribute(k, attrs[k]);
  parent.appendChild(el);
  return el;
}
function labelWidth(s) {
  let w = 0;
  for (const ch of String(s)) w += ch === '.' ? 7 : ch === '\u2212' ? 19 : 14;
  return w;
}
function boldText(str, x, y, anchor, parent) {
  const w = labelWidth(str);
  const t = make('text', {x:x, y:y, 'text-anchor':anchor, 'font-size':27, 'font-weight':'bold', stroke:'#000', 'stroke-width':0.7, textLength:w, lengthAdjust:'spacingAndGlyphs'}, parent);
  t.textContent = str;
  return t;
}

panels.forEach(function (p) {
  const xScale = function (year) { return p.x0 + (year - 1960) * (p.R - p.x0) / 60; };
  const yScale = function (depth) { return p.T + (depth / 700) * (p.B - p.T); };

  const group = make('g', {}, figure);
  
  

  const title = make('text', {x:p.tx, y:p.tb, 'font-size':53, textLength:p.tw, lengthAdjust:'spacingAndGlyphs'}, group);
  title.textContent = p.title;
  
  

  const defs = make('defs', {}, group);
  const clip = make('clipPath', {id:'clip-' + p.id}, defs);
  make('rect', {x:xScale(1960), y:yScale(5), width:xScale(2018) - xScale(1960), height:yScale(700) - yScale(5)}, clip);

  const field = make('g', {'clip-path':'url(#clip-' + p.id + ')'}, group);
  
  

  const base = make('rect', {x:xScale(1960), y:yScale(0), width:xScale(2018) - xScale(1960), height:yScale(700) - yScale(0), fill:levelColors[p.base]}, field);
  
  

  p.regions.forEach(function (region) {
    const level = region[0];
    const coords = region[1];
    const pts = [];
    let deepest = 0;
    for (let i = 0; i < coords.length; i += 2) {
      pts.push(xScale(coords[i]).toFixed(1) + ',' + yScale(coords[i + 1]).toFixed(1));
      deepest = Math.max(deepest, coords[i + 1]);
    }
    const poly = make('polygon', {points:pts.join(' '), fill:levelColors[level]}, field);
    
    
    if (p.ring && level === 4 && deepest < 200) {
      poly.setAttribute('stroke', '#e4f2dc');
      poly.setAttribute('stroke-width', '4');
      poly.setAttribute('stroke-linejoin', 'round');
    }
  });

  if (p.line) {
    const pts = mldYears.map(function (year, i) {
      return xScale(year).toFixed(1) + ',' + yScale(mldDepth[i]).toFixed(1);
    });
    const line = make('polyline', {points:pts.join(' '), fill:'none', stroke:'#000', 'stroke-width':12, 'stroke-linejoin':'round', 'stroke-linecap':'round'}, group);
    
    
  }

  const frame = make('rect', {x:p.L, y:p.T, width:p.R - p.L, height:p.B - p.T, fill:'none', stroke:'#000', 'stroke-width':3.5}, group);
  
  

  yearTicks.forEach(function (year) {
    const tick = make('line', {x1:xScale(year), x2:xScale(year), y1:p.B, y2:p.B + 9, stroke:'#000', 'stroke-width':2.5}, group);
    
    
    const label = boldText(year, xScale(year), p.B + 32, 'middle', group);
    
    
  });

  depthTicks.forEach(function (depth) {
    const tick = make('line', {x1:p.L - 9, x2:p.L, y1:yScale(depth), y2:yScale(depth), stroke:'#000', 'stroke-width':2.5}, group);
    
    
    const label = boldText(depth, p.L - 15, yScale(depth) + 9, 'end', group);
    
    
  });

  const bar = make('g', {}, group);
  
  
  const barStep = (p.cbR - p.cbL) / 10;
  const barMid = (p.cbT + p.cbB) / 2;

  const lowTip = make('polygon', {points:p.tipL + ',' + barMid + ' ' + p.cbL + ',' + p.cbT + ' ' + p.cbL + ',' + p.cbB, fill:levelColors[0], stroke:'#000', 'stroke-width':1.5}, bar);
  
  
  const highTip = make('polygon', {points:p.tipR + ',' + barMid + ' ' + p.cbR + ',' + p.cbT + ' ' + p.cbR + ',' + p.cbB, fill:levelColors[11], stroke:'#000', 'stroke-width':1.5}, bar);
  
  

  for (let i = 0; i < 10; i++) {
    const seg = make('rect', {x:p.cbL + i * barStep, y:p.cbT, width:barStep, height:p.cbB - p.cbT, fill:levelColors[i + 1], stroke:'#000', 'stroke-width':1.5}, bar);
    
    
  }
  p.labels.forEach(function (text, i) {
    const label = boldText(text, p.cbL + i * barStep, p.cbB + 24, 'middle', bar);
    
    
  });

  const units = make('text', {x:p.ux, y:p.ub, 'font-size':44, textLength:p.uw, lengthAdjust:'spacingAndGlyphs'}, group);
  
  
  const unitA = make('tspan', {}, units);
  unitA.textContent = p.u[0];
  const unitB = make('tspan', {dy:-24, 'font-size':32}, units);
  unitB.textContent = p.u[1];
  const unitC = make('tspan', {dy:24}, units);
  unitC.textContent = p.u[2];
  const unitD = make('tspan', {dy:-22, 'font-size':32}, units);
  unitD.textContent = p.u[3];
});
</script>
</body>
</html>
